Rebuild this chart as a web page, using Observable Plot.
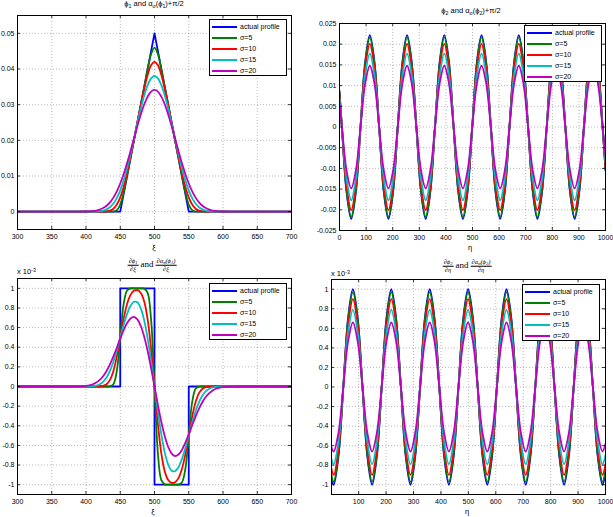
<!DOCTYPE html>
<html>
<head>
<meta charset="utf-8">
<script src="https://cdn.jsdelivr.net/npm/d3@7"></script>
<script src="https://cdn.jsdelivr.net/npm/@observablehq/plot@0.6"></script>
<style>
  body { margin: 0; background: #fff; }
  #fig { position: relative; width: 613px; height: 517px; overflow: hidden; background: #fff;
         font-family: "Liberation Sans", Arial, Helvetica, sans-serif; color: #000; }
  .txt { position: absolute; transform: translate(-50%, -50%); white-space: nowrap; font-size: 7.5px; line-height: 1; }
  .txt sub, .legend sub { font-size: 70%; vertical-align: -0.3em; line-height: 0; }
  .txt sup { font-size: 70%; vertical-align: 0.5em; line-height: 0; }
  .left { transform: translate(0, -50%); }
  .math { font-family: "Liberation Serif", "DejaVu Serif", serif; font-size: 9px; }
  .frac { display: inline-flex; flex-direction: column; align-items: center; vertical-align: middle;
          font-size: 6.5px; line-height: 6.5px; font-style: italic; margin: 0 2px; }
  .frac > span:first-child { border-bottom: 0.6px solid #000; padding: 0 1px 0.5px; }
  .legend { position: absolute; width: 78px; height: 57px; box-sizing: border-box; border: 1px solid #000;
            background: #fff; padding-top: 1px; font-size: 7px; }
  .row { height: 11px; display: flex; align-items: center; }
  .sw { display: inline-block; width: 25px; height: 2px; margin: 0 3px 0 2px; }
</style>
</head>
<body>
<div id="fig"></div>
<script>
// ---- series names and colours ----
const seriesNames = ["actual profile", "σ=5", "σ=10", "σ=15", "σ=20"];
const seriesColors = ["#0000ff", "#008000", "#ff0000", "#00bfbf", "#bf00bf"];

// ---- tick values ----
const xiTicks = [300, 350, 400, 450, 500, 550, 600, 650, 700];
const etaTicksTop = [0, 100, 200, 300, 400, 500, 600, 700, 800, 900, 1000];
const etaTicksBottom = [100, 200, 300, 400, 500, 600, 700, 800, 900, 1000];
const phi1Ticks = [0, 0.01, 0.02, 0.03, 0.04, 0.05];
const phi2Ticks = [-0.025, -0.02, -0.015, -0.01, -0.005, 0, 0.005, 0.01, 0.015, 0.02, 0.025];
const derivTicks = [-1, -0.8, -0.6, -0.4, -0.2, 0, 0.2, 0.4, 0.6, 0.8, 1];

// ---- phi_1 profile (xi axis) ----
const phi1ActualXi = [300, 450, 500, 550, 700];
const phi1Actual = [0, 0, 0.05, 0, 0];

const xi = [300, 350, 370, 380, 390, 400, 405, 410, 415, 420, 425, 430, 435, 440, 445, 450, 455, 460, 465, 470, 475,
  480, 485, 490, 495, 500, 505, 510, 515, 520, 525, 530, 535, 540, 545, 550, 555, 560, 565, 570, 575, 580, 585, 590,
  595, 600, 610, 620, 630, 650, 700];

const phi1S5 = [0, 0, 0, 0, 0, 0, 0, 0, 0, 0, 0, 0, 0, 0.00004, 0.00042, 0.00199, 0.00542, 0.01004, 0.015, 0.02,
  0.025, 0.03, 0.035, 0.03992, 0.04417, 0.04601, 0.04417, 0.03992, 0.035, 0.03, 0.025, 0.02, 0.015, 0.01004, 0.00542,
  0.00199, 0.00042, 0.00004, 0, 0, 0, 0, 0, 0, 0, 0, 0, 0, 0, 0, 0];
const phi1S10 = [0, 0, 0, 0, 0, 0, 0, 0, 0, 0, 0.00002, 0.00009, 0.00029, 0.00083, 0.00198, 0.00399, 0.00698,
  0.01083, 0.01529, 0.02008, 0.02498, 0.02983, 0.03442, 0.03833, 0.04104, 0.04202, 0.04104, 0.03833, 0.03442,
  0.02983, 0.02498, 0.02008, 0.01529, 0.01083, 0.00698, 0.00399, 0.00198, 0.00083, 0.00029, 0.00009, 0.00002,
  0, 0, 0, 0, 0, 0, 0, 0, 0, 0];
const phi1S15 = [0, 0, 0, 0, 0, 0, 0.00001, 0.00002, 0.00005, 0.00013, 0.0003, 0.00064, 0.00125, 0.00227, 0.00381,
  0.00598, 0.0088, 0.01223, 0.01615, 0.02038, 0.0247, 0.02886, 0.03255, 0.03549, 0.03738, 0.03804, 0.03738,
  0.03549, 0.03255, 0.02886, 0.0247, 0.02038, 0.01615, 0.01223, 0.0088, 0.00598, 0.00381, 0.00227, 0.00125,
  0.00064, 0.0003, 0.00013, 0.00005, 0.00002, 0.00001, 0, 0, 0, 0, 0, 0];
const phi1S20 = [0, 0, 0, 0, 0.00001, 0.00004, 0.00008, 0.00017, 0.00032, 0.00059, 0.00101, 0.00166, 0.00261,
  0.00394, 0.00569, 0.0079, 0.01056, 0.01362, 0.01698, 0.02049, 0.02399, 0.02726, 0.03008, 0.03227, 0.03365,
  0.03412, 0.03365, 0.03227, 0.03008, 0.02726, 0.02399, 0.02049, 0.01698, 0.01362, 0.01056, 0.0079, 0.00569,
  0.00394, 0.00261, 0.00166, 0.00101, 0.00059, 0.00032, 0.00017, 0.00008, 0.00004, 0.00001, 0, 0, 0, 0];

// ---- d(phi_1)/d(xi), in units of 1e-3 ----
const dPhi1ActualXi = [300, 450, 450, 500, 500, 550, 550, 700];
const dPhi1Actual = [0, 0, 1, 1, -1, -1, 0, 0];

const dPhi1S5 = [0, 0, 0, 0, 0, 0, 0, 0, 0, 0, 0, 0, 0.001, 0.023, 0.159, 0.5, 0.841, 0.977, 0.999, 1, 1, 1, 0.997,
  0.954, 0.683, 0, -0.683, -0.954, -0.997, -1, -1, -1, -0.999, -0.977, -0.841, -0.5, -0.159, -0.023, -0.001,
  0, 0, 0, 0, 0, 0, 0, 0, 0, 0, 0, 0];
const dPhi1S10 = [0, 0, 0, 0, 0, 0, 0, 0, 0.0002, 0.001, 0.006, 0.023, 0.067, 0.159, 0.309, 0.5, 0.692, 0.841, 0.933,
  0.975, 0.981, 0.953, 0.866, 0.683, 0.383, 0, -0.383, -0.683, -0.866, -0.953, -0.981, -0.975, -0.933, -0.841,
  -0.692, -0.5, -0.309, -0.159, -0.067, -0.023, -0.006, -0.001, -0.0002, 0, 0, 0, 0, 0, 0, 0, 0];
const dPhi1S15 = [0, 0, 0, 0, 0, 0.0004, 0.001, 0.004, 0.01, 0.023, 0.048, 0.091, 0.159, 0.252, 0.369, 0.499, 0.628,
  0.74, 0.822, 0.863, 0.857, 0.795, 0.673, 0.491, 0.26, 0, -0.26, -0.491, -0.673, -0.795, -0.857, -0.863, -0.822,
  -0.74, -0.628, -0.499, -0.369, -0.252, -0.159, -0.091, -0.048, -0.023, -0.01, -0.004, -0.001, -0.0004,
  0, 0, 0, 0, 0];
const dPhi1S20 = [0, 0, 0, 0.0002, 0.001, 0.006, 0.012, 0.023, 0.04, 0.067, 0.105, 0.158, 0.225, 0.306, 0.395, 0.488,
  0.574, 0.646, 0.693, 0.708, 0.683, 0.616, 0.507, 0.362, 0.188, 0, -0.188, -0.362, -0.507, -0.616, -0.683, -0.708,
  -0.693, -0.646, -0.574, -0.488, -0.395, -0.306, -0.225, -0.158, -0.105, -0.067, -0.04, -0.023, -0.012, -0.006,
  -0.001, -0.0002, 0, 0, 0];

// ---- phi_2 profile (eta axis) ----
const eta = [0, 9, 26.5, 44, 61.5, 79, 96.5, 114, 131.5, 149, 166.5, 184, 201.5, 219, 236.5, 254, 271.5, 289, 306.5,
  324, 341.5, 359, 376.5, 394, 411.5, 429, 446.5, 464, 481.5, 499, 516.5, 534, 551.5, 569, 586.5, 604, 621.5, 639,
  656.5, 674, 691.5, 709, 726.5, 744, 761.5, 779, 796.5, 814, 831.5, 849, 866.5, 884, 901.5, 919, 936.5, 954,
  971.5, 989, 1000];

const phi2Actual = [0.0087,
  0, -0.0157, -0.0222, -0.0157, 0, 0.0157, 0.0222, 0.0157, 0, -0.0157, -0.0222, -0.0157, 0, 0.0157, 0.0222, 0.0157,
  0, -0.0157, -0.0222, -0.0157, 0, 0.0157, 0.0222, 0.0157, 0, -0.0157, -0.0222, -0.0157, 0, 0.0157, 0.0222, 0.0157,
  0, -0.0157, -0.0222, -0.0157, 0, 0.0157, 0.0222, 0.0157, 0, -0.0157, -0.0222, -0.0157, 0, 0.0157, 0.0222, 0.0157,
  0, -0.0157, -0.0222, -0.0157, 0, 0.0157, 0.0222, 0.0157, 0, -0.0105];
const phi2S5 = [0.0085,
  0, -0.0153, -0.0217, -0.0153, 0, 0.0153, 0.0217, 0.0153, 0, -0.0153, -0.0217, -0.0153, 0, 0.0153, 0.0217, 0.0153,
  0, -0.0153, -0.0217, -0.0153, 0, 0.0153, 0.0217, 0.0153, 0, -0.0153, -0.0217, -0.0153, 0, 0.0153, 0.0217, 0.0153,
  0, -0.0153, -0.0217, -0.0153, 0, 0.0153, 0.0217, 0.0153, 0, -0.0153, -0.0217, -0.0153, 0, 0.0153, 0.0217, 0.0153,
  0, -0.0153, -0.0217, -0.0153, 0, 0.0153, 0.0217, 0.0153, 0, -0.0103];
const phi2S10 = [0.0079,
  0, -0.0142, -0.0201, -0.0142, 0, 0.0142, 0.0201, 0.0142, 0, -0.0142, -0.0201, -0.0142, 0, 0.0142, 0.0201, 0.0142,
  0, -0.0142, -0.0201, -0.0142, 0, 0.0142, 0.0201, 0.0142, 0, -0.0142, -0.0201, -0.0142, 0, 0.0142, 0.0201, 0.0142,
  0, -0.0142, -0.0201, -0.0142, 0, 0.0142, 0.0201, 0.0142, 0, -0.0142, -0.0201, -0.0142, 0, 0.0142, 0.0201, 0.0142,
  0, -0.0142, -0.0201, -0.0142, 0, 0.0142, 0.0201, 0.0142, 0, -0.0095];
const phi2S15 = [0.007,
  0, -0.0125, -0.0177, -0.0125, 0, 0.0125, 0.0177, 0.0125, 0, -0.0125, -0.0177, -0.0125, 0, 0.0125, 0.0177, 0.0125,
  0, -0.0125, -0.0177, -0.0125, 0, 0.0125, 0.0177, 0.0125, 0, -0.0125, -0.0177, -0.0125, 0, 0.0125, 0.0177, 0.0125,
  0, -0.0125, -0.0177, -0.0125, 0, 0.0125, 0.0177, 0.0125, 0, -0.0125, -0.0177, -0.0125, 0, 0.0125, 0.0177, 0.0125,
  0, -0.0125, -0.0177, -0.0125, 0, 0.0125, 0.0177, 0.0125, 0, -0.0084];
const phi2S20 = [0.0058,
  0, -0.0105, -0.0148, -0.0105, 0, 0.0105, 0.0148, 0.0105, 0, -0.0105, -0.0148, -0.0105, 0, 0.0105, 0.0148, 0.0105,
  0, -0.0105, -0.0148, -0.0105, 0, 0.0105, 0.0148, 0.0105, 0, -0.0105, -0.0148, -0.0105, 0, 0.0105, 0.0148, 0.0105,
  0, -0.0105, -0.0148, -0.0105, 0, 0.0105, 0.0148, 0.0105, 0, -0.0105, -0.0148, -0.0105, 0, 0.0105, 0.0148, 0.0105,
  0, -0.0105, -0.0148, -0.0105, 0, 0.0105, 0.0148, 0.0105, 0, -0.007];

// ---- d(phi_2)/d(eta), in units of 1e-3 ----
const dPhi2Actual = [-0.921,
  -1, -0.707, 0, 0.707, 1, 0.707, 0, -0.707, -1, -0.707, 0, 0.707, 1, 0.707, 0, -0.707,
  -1, -0.707, 0, 0.707, 1, 0.707, 0, -0.707, -1, -0.707, 0, 0.707, 1, 0.707, 0, -0.707,
  -1, -0.707, 0, 0.707, 1, 0.707, 0, -0.707, -1, -0.707, 0, 0.707, 1, 0.707, 0, -0.707,
  -1, -0.707, 0, 0.707, 1, 0.707, 0, -0.707, -1, -0.88];
const dPhi2S5 = [-0.893,
  -0.97, -0.686, 0, 0.686, 0.97, 0.686, 0, -0.686, -0.97, -0.686, 0, 0.686, 0.97, 0.686, 0, -0.686,
  -0.97, -0.686, 0, 0.686, 0.97, 0.686, 0, -0.686, -0.97, -0.686, 0, 0.686, 0.97, 0.686, 0, -0.686,
  -0.97, -0.686, 0, 0.686, 0.97, 0.686, 0, -0.686, -0.97, -0.686, 0, 0.686, 0.97, 0.686, 0, -0.686,
  -0.97, -0.686, 0, 0.686, 0.97, 0.686, 0, -0.686, -0.97, -0.854];
const dPhi2S10 = [-0.829,
  -0.9, -0.636, 0, 0.636, 0.9, 0.636, 0, -0.636, -0.9, -0.636, 0, 0.636, 0.9, 0.636, 0, -0.636,
  -0.9, -0.636, 0, 0.636, 0.9, 0.636, 0, -0.636, -0.9, -0.636, 0, 0.636, 0.9, 0.636, 0, -0.636,
  -0.9, -0.636, 0, 0.636, 0.9, 0.636, 0, -0.636, -0.9, -0.636, 0, 0.636, 0.9, 0.636, 0, -0.636,
  -0.9, -0.636, 0, 0.636, 0.9, 0.636, 0, -0.636, -0.9, -0.792];
const dPhi2S15 = [-0.728,
  -0.79, -0.559, 0, 0.559, 0.79, 0.559, 0, -0.559, -0.79, -0.559, 0, 0.559, 0.79, 0.559, 0, -0.559,
  -0.79, -0.559, 0, 0.559, 0.79, 0.559, 0, -0.559, -0.79, -0.559, 0, 0.559, 0.79, 0.559, 0, -0.559,
  -0.79, -0.559, 0, 0.559, 0.79, 0.559, 0, -0.559, -0.79, -0.559, 0, 0.559, 0.79, 0.559, 0, -0.559,
  -0.79, -0.559, 0, 0.559, 0.79, 0.559, 0, -0.559, -0.79, -0.695];
const dPhi2S20 = [-0.608,
  -0.66, -0.467, 0, 0.467, 0.66, 0.467, 0, -0.467, -0.66, -0.467, 0, 0.467, 0.66, 0.467, 0, -0.467,
  -0.66, -0.467, 0, 0.467, 0.66, 0.467, 0, -0.467, -0.66, -0.467, 0, 0.467, 0.66, 0.467, 0, -0.467,
  -0.66, -0.467, 0, 0.467, 0.66, 0.467, 0, -0.467, -0.66, -0.467, 0, 0.467, 0.66, 0.467, 0, -0.467,
  -0.66, -0.467, 0, 0.467, 0.66, 0.467, 0, -0.467, -0.66, -0.581];

// ---- drawing ----
const FONT = '"Liberation Sans", Arial, Helvetica, sans-serif';
const fig = document.getElementById("fig");
const pts = (xs, ys) => xs.map((x, i) => ({x, y: ys[i]}));

// one MATLAB-style axes: dotted grid, inward ticks on all sides, boxed frame
function panel({frame, xDomain, yDomain, xTicks, yTicks, series}) {
  const [l, t, r, b] = frame;
  const ml = 40, mt = 8, mr = 8, mb = 24;
  const w = r - l, h = b - t;
  const fmt = d => String(d);
  const svg = Plot.plot({
    width: w + ml + mr, height: h + mt + mb,
    marginLeft: ml, marginTop: mt, marginRight: mr, marginBottom: mb,
    style: {background: "none", fontFamily: FONT, fontSize: "7px", color: "#000", overflow: "visible"},
    x: {domain: xDomain, label: null},
    y: {domain: yDomain, label: null},
    marks: [
      Plot.gridX(xTicks, {stroke: "#000", strokeOpacity: 0.4, strokeWidth: 0.7, strokeDasharray: "1,2"}),
      Plot.gridY(yTicks, {stroke: "#000", strokeOpacity: 0.4, strokeWidth: 0.7, strokeDasharray: "1,2"}),
      ...series.map(s => Plot.line(s.data, {x: "x", y: "y", stroke: s.color, strokeWidth: 1.8,
        curve: s.curve, clip: true})),
      Plot.ruleX(xTicks, {insetTop: h - 3, strokeWidth: 0.8}),
      Plot.ruleX(xTicks, {insetBottom: h - 3, strokeWidth: 0.8}),
      Plot.ruleY(yTicks, {insetRight: w - 3, strokeWidth: 0.8}),
      Plot.ruleY(yTicks, {insetLeft: w - 3, strokeWidth: 0.8}),
      Plot.frame({stroke: "#000", strokeWidth: 1}),
      Plot.axisX(xTicks, {tickSize: 0, tickPadding: 5, tickFormat: fmt}),
      Plot.axisY(yTicks, {tickSize: 0, tickPadding: 3, tickFormat: fmt})
    ]
  });
  svg.style.position = "absolute";
  svg.style.left = (l - ml) + "px";
  svg.style.top = (t - mt) + "px";
  svg.style.maxWidth = "none";
  fig.appendChild(svg);
}

function text(html, x, y, cls = "") {
  const d = document.createElement("div");
  d.className = "txt " + cls;
  d.style.left = x + "px";
  d.style.top = y + "px";
  d.innerHTML = html;
  fig.appendChild(d);
}

function legend(x, y) {
  const d = document.createElement("div");
  d.className = "legend";
  d.style.left = x + "px";
  d.style.top = y + "px";
  d.innerHTML = seriesNames.map((n, i) =>
    `<div class="row"><span class="sw" style="background:${seriesColors[i]}"></span>${n}</div>`).join("");
  fig.appendChild(d);
}

const smooth = "catmull-rom";

panel({
  frame: [17, 15, 291, 229], xDomain: [300, 700], yDomain: [-0.005, 0.055],
  xTicks: xiTicks, yTicks: phi1Ticks,
  series: [
    {data: pts(phi1ActualXi, phi1Actual), color: seriesColors[0], curve: "linear"},
    {data: pts(xi, phi1S5), color: seriesColors[1], curve: smooth},
    {data: pts(xi, phi1S10), color: seriesColors[2], curve: smooth},
    {data: pts(xi, phi1S15), color: seriesColors[3], curve: smooth},
    {data: pts(xi, phi1S20), color: seriesColors[4], curve: smooth}
  ]
});

panel({
  frame: [339, 23, 605, 230], xDomain: [0, 1000], yDomain: [-0.025, 0.025],
  xTicks: etaTicksTop, yTicks: phi2Ticks,
  series: [phi2Actual, phi2S5, phi2S10, phi2S15, phi2S20].map((ys, i) =>
    ({data: pts(eta, ys), color: seriesColors[i], curve: smooth}))
});

panel({
  frame: [17, 278, 291, 494], xDomain: [300, 700], yDomain: [-1.1, 1.1],
  xTicks: xiTicks, yTicks: derivTicks,
  series: [
    {data: pts(dPhi1ActualXi, dPhi1Actual), color: seriesColors[0], curve: "linear"},
    {data: pts(xi, dPhi1S5), color: seriesColors[1], curve: smooth},
    {data: pts(xi, dPhi1S10), color: seriesColors[2], curve: smooth},
    {data: pts(xi, dPhi1S15), color: seriesColors[3], curve: smooth},
    {data: pts(xi, dPhi1S20), color: seriesColors[4], curve: smooth}
  ]
});

panel({
  frame: [331, 279, 605, 494], xDomain: [1, 1000], yDomain: [-1.1, 1.1],
  xTicks: etaTicksBottom, yTicks: derivTicks,
  series: [dPhi2Actual, dPhi2S5, dPhi2S10, dPhi2S15, dPhi2S20].map((ys, i) =>
    ({data: pts(eta, ys), color: seriesColors[i], curve: smooth}))
});

// titles
text("ϕ<sub>1</sub> and α<sub>σ</sub>(ϕ<sub>1</sub>)+π/2", 154, 4);
text("ϕ<sub>2</sub> and α<sub>σ</sub>(ϕ<sub>2</sub>)+π/2", 471, 11);
text('<span class="frac"><span>∂ϕ<sub>1</sub></span><span>∂ξ</span></span>and<span class="frac"><span>∂α<sub>σ</sub>(ϕ<sub>1</sub>)</span><span>∂ξ</span></span>', 152, 265, "math");
text('<span class="frac"><span>∂ϕ<sub>2</sub></span><span>∂η</span></span>and<span class="frac"><span>∂α<sub>σ</sub>(ϕ<sub>2</sub>)</span><span>∂η</span></span>', 467, 266, "math");

// axis labels
text("ξ", 154, 248);
text("η", 470, 248);
text("ξ", 153, 512);
text("η", 467, 512);
text("x 10<sup>-3</sup>", 17, 272, "left");
text("x 10<sup>-3</sup>", 331, 274, "left");

// legends
legend(209, 19);
legend(524, 25);
legend(209, 283);
legend(522, 284);
</script>
</body>
</html>
